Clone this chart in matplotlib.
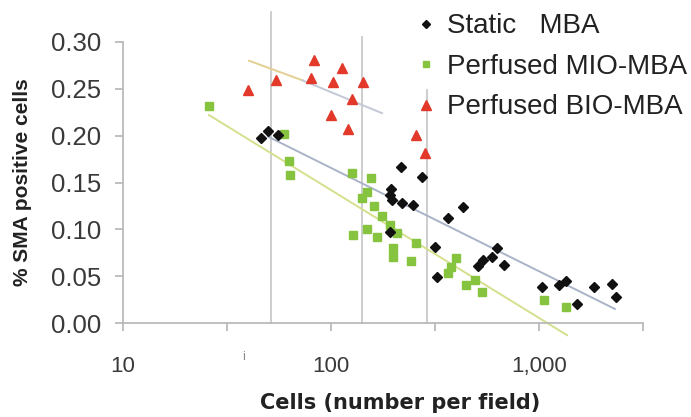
import matplotlib.pyplot as plt
from matplotlib.lines import Line2D

# data
static_x = [46.1, 49.8, 55.6, 217, 274, 194, 192, 196, 219, 248, 431, 365, 192,
            316, 323, 628, 594, 538, 509, 679, 1033, 1247, 1349, 1523, 1837, 2243, 2344]
static_y = [0.197, 0.205, 0.201, 0.167, 0.156, 0.143, 0.137, 0.131, 0.128, 0.126,
            0.124, 0.112, 0.097, 0.081, 0.049, 0.080, 0.070, 0.067, 0.061, 0.062,
            0.038, 0.041, 0.045, 0.020, 0.038, 0.042, 0.028]

mio_x = [25.9, 59.4, 62.8, 63.5, 126, 156, 149, 141, 161, 176, 128, 149, 166, 192,
         208, 199, 199, 256, 242, 399, 378, 365, 446, 492, 532, 1057, 1349]
mio_y = [0.232, 0.202, 0.173, 0.158, 0.160, 0.155, 0.140, 0.133, 0.125, 0.114,
         0.094, 0.100, 0.092, 0.105, 0.096, 0.080, 0.070, 0.085, 0.066, 0.069,
         0.060, 0.053, 0.041, 0.046, 0.033, 0.025, 0.017]

bio_x = [39.9, 54.4, 82.8, 80.1, 113, 102, 143, 126, 100, 121, 256, 283]
bio_y = [0.249, 0.259, 0.281, 0.262, 0.272, 0.257, 0.257, 0.239, 0.222, 0.207,
         0.201, 0.181]

# trend lines (end points)
static_fit_x = [49.8, 2317]
static_fit_y = [0.199, 0.015]
mio_fit_x = [25.9, 1365]
mio_fit_y = [0.222, -0.013]
bio_fit_x = [40.4, 73, 176]
bio_fit_y = [0.280, 0.259, 0.224]

# vertical guide lines
guide_x = [51.4, 141, 290]
guide_top = [0.332, 0.305, 0.249]

labels = ["Static   MBA", "Perfused MIO-MBA", "Perfused BIO-MBA"]

plt.rcParams['font.family'] = ['Liberation Sans', 'DejaVu Sans']

fig = plt.figure(figsize=(6.91, 4.17), dpi=100)
ax = fig.add_axes([0.178, 0.2254, 0.7525, 0.6739])

for gx, gt in zip(guide_x, guide_top):
    ax.plot([gx, gx], [0, gt], color='#c9c9c9', lw=1.3, clip_on=False, zorder=1)

ax.plot(static_fit_x, static_fit_y, color='#aab3c8', lw=1.4, clip_on=False, zorder=2)
ax.plot(mio_fit_x, mio_fit_y, color='#d6e08c', lw=1.4, clip_on=False, zorder=2)
ax.plot(bio_fit_x[:2], bio_fit_y[:2], color='#e3cf92', lw=1.4, zorder=2)
ax.plot(bio_fit_x[1:], bio_fit_y[1:], color='#c3c8d6', lw=1.4, zorder=2)

ax.plot(mio_x, mio_y, 's', color='#86c440', ms=6, mec='#86c440', ls='none', zorder=3)
ax.plot(static_x, static_y, 'D', color='#111111', ms=4.6, ls='none', zorder=4)
ax.plot(bio_x, bio_y, '^', color='#e2392a', ms=7.5, mec='#e2392a', ls='none', zorder=4)

ax.set_xscale('log')
ax.set_xlim(10, 10 ** 3.5)
ax.set_ylim(0, 0.30)
ax.set_xticks([10, 10 ** 1.5, 100, 10 ** 2.5, 1000, 10 ** 3.5])
ax.set_xticklabels(['10', '', '100', '', '1,000', ''])
ax.xaxis.set_minor_locator(plt.NullLocator())
ax.set_yticks([0, 0.05, 0.10, 0.15, 0.20, 0.25, 0.30])
ax.set_yticklabels(['0.00', '0.05', '0.10', '0.15', '0.20', '0.25', '0.30'])

for s in ['top', 'right']:
    ax.spines[s].set_visible(False)
for s in ['left', 'bottom']:
    ax.spines[s].set_color('#b5b5b5')
    ax.spines[s].set_linewidth(1.2)

ax.tick_params(axis='y', colors='#b5b5b5', labelcolor='#3a3a3a', labelsize=18.5,
               length=6, width=1.2, pad=10)
ax.tick_params(axis='x', colors='#b5b5b5', labelcolor='#3a3a3a', labelsize=16,
               length=6, width=1.2, pad=18)

ax.set_ylabel('% SMA positive cells', fontsize=15, fontweight='bold', color='#222222')
ax.yaxis.set_label_coords(-0.175, 0.5)
fig.text(0.579, 0.034, 'Cells (number per field)', fontsize=15, fontweight='bold',
         family='DejaVu Sans', color='#222222', ha='center', va='center')

fig.text(0.352, 0.145, 'i', fontsize=9, color='#888888', ha='center', va='center')

handles = [
    Line2D([], [], marker='D', color='#111111', ms=4, ls='none'),
    Line2D([], [], marker='s', color='#86c440', ms=5, ls='none'),
    Line2D([], [], marker='^', color='#e2392a', ms=7, ls='none'),
]
leg = fig.legend(handles, labels, loc='upper left', bbox_to_anchor=(0.603, 0.968),
                 frameon=False, fontsize=20, handlelength=0.7, handletextpad=0.4,
                 labelspacing=0.52, borderpad=0, borderaxespad=0)
for t in leg.get_texts():
    t.set_color('#222222')

fig.savefig('out.png', dpi=100)
